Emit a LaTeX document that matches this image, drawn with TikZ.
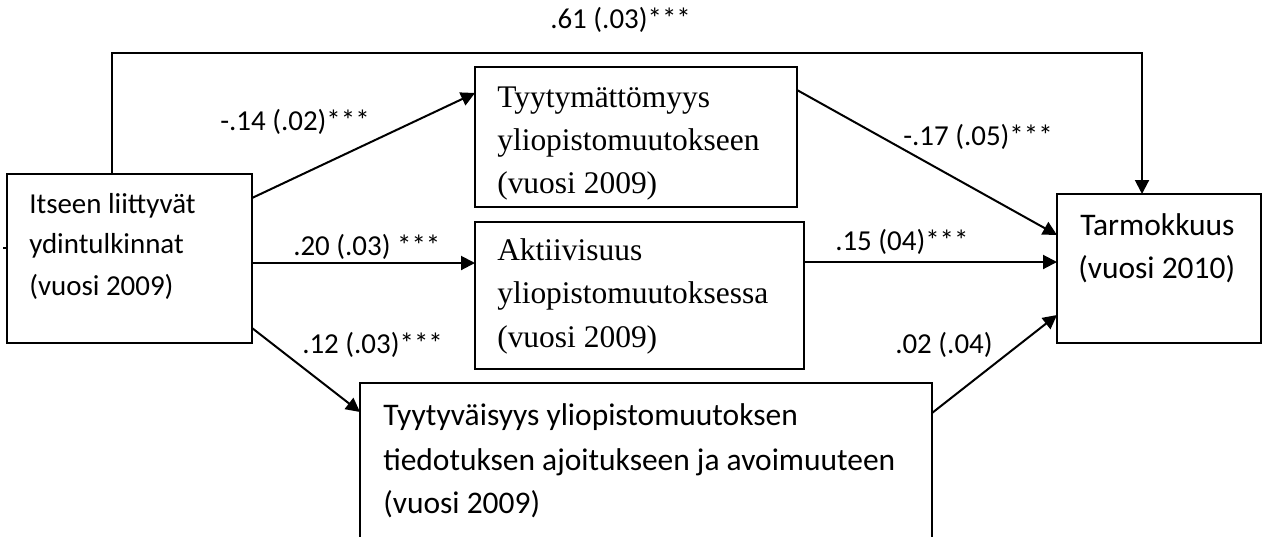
\documentclass[tikz,border=0pt]{standalone}
\usepackage{fontspec}
\newfontfamily\calfont{Carlito}
\newfontfamily\tmsfont{Liberation Serif}
\usetikzlibrary{arrows.meta}
\tikzset{
  box/.style={draw, line width=1.5pt, rectangle, inner sep=0pt, outer sep=0pt, fill=none},
  conn/.style={line width=1.5pt},
  arr/.style={conn, -{Triangle[length=10.5pt,width=10.5pt]}},
  lab/.style={anchor=base west, inner sep=0pt, font=\calfont\fontsize{21.7}{26}\selectfont},
  ltxt/.style={anchor=base west, inner sep=0pt, font=\calfont\fontsize{21.7}{26}\selectfont},
  btxt/.style={anchor=base west, inner sep=0pt, font=\calfont\fontsize{23.6}{28}\selectfont},
  ttxt/.style={anchor=base west, inner sep=0pt, font=\tmsfont\fontsize{23.6}{28}\selectfont}
}
\begin{document}
\begin{tikzpicture}[x=0.75pt,y=-0.75pt]
\useasboundingbox (0,0) rectangle (1262,536);
\clip (0,0) rectangle (1262,536);
% boxes
\node[box, minimum width=183.75pt, minimum height=126.75pt] (L) at (129.5,258.5) {};
\node[box, minimum width=241.5pt, minimum height=105pt] (T) at (636,137) {};
\node[box, minimum width=246.75pt, minimum height=110.25pt] (A) at (639.5,295.5) {};
\node[box, minimum width=429pt, minimum height=162.75pt] (B) at (646,491.5) {};
\node[box, minimum width=153pt, minimum height=111.75pt] (R) at (1159,268.5) {};
% box texts
\node[ltxt] (L1) at (29,213) {Itseen liittyvät};
\node[ltxt] (L2) at (29,253) {ydintulkinnat};
\node[ltxt] (L3) at (29,295) {(vuosi 2009)};
\node[ttxt] (T1) at (497,107) {Tyytymättömyys};
\node[ttxt] (T2) at (497,150) {yliopistomuutokseen};
\node[ttxt] (T3) at (497,193) {(vuosi 2009)};
\node[ttxt] (A1) at (497,260) {Aktiivisuus};
\node[ttxt] (A2) at (497,303) {yliopistomuutoksessa};
\node[ttxt] (A3) at (497,347) {(vuosi 2009)};
\node[btxt] (B1) at (383,425) {Tyytyväisyys yliopistomuutoksen};
\node[btxt] (B2) at (383,470) {tiedotuksen ajoitukseen ja avoimuuteen};
\node[btxt] (B3) at (383,513) {(vuosi 2009)};
\node[btxt] (R1) at (1080,235) {Tarmokkuus};
\node[btxt] (R2) at (1078,278) {(vuosi 2010)};
% connectors
\coordinate (topL) at (112,53);
\coordinate (topR) at (1142,53);
\coordinate (stub) at (3,248);
\draw[arr] (L.north -| topL) -- (topL) -- (topR) -- (R.north -| topR);
\draw[arr] (L.east |- 0,198) -- (T.west |- 0,93);
\draw[arr] (L.east |- 0,263) -- (A.west |- 0,263);
\draw[arr] (L.east |- 0,328) -- (B.west |- 0,412);
\draw[arr] (T.east |- 0,90) -- (R.west |- 0,235);
\draw[arr] (A.east |- 0,262) -- (R.west |- 0,262);
\draw[arr] (B.east |- 0,413) -- (R.west |- 0,315);
\draw[conn] (stub) -- (L.west |- stub);
% labels
\node[lab] (l61) at (550,28) {.61 (.03)***};
\node[lab] (l14) at (220,130) {-.14 (.02)***};
\node[lab] (l20) at (293,255) {.20 (.03) ***};
\node[lab] (l12) at (302,353) {.12 (.03)***};
\node[lab] (l17) at (903,145) {-.17 (.05)***};
\node[lab] (l15) at (835,250) {.15 (04)***};
\node[lab] (l02) at (895,353) {.02 (.04)};
\end{tikzpicture}
\end{document}
